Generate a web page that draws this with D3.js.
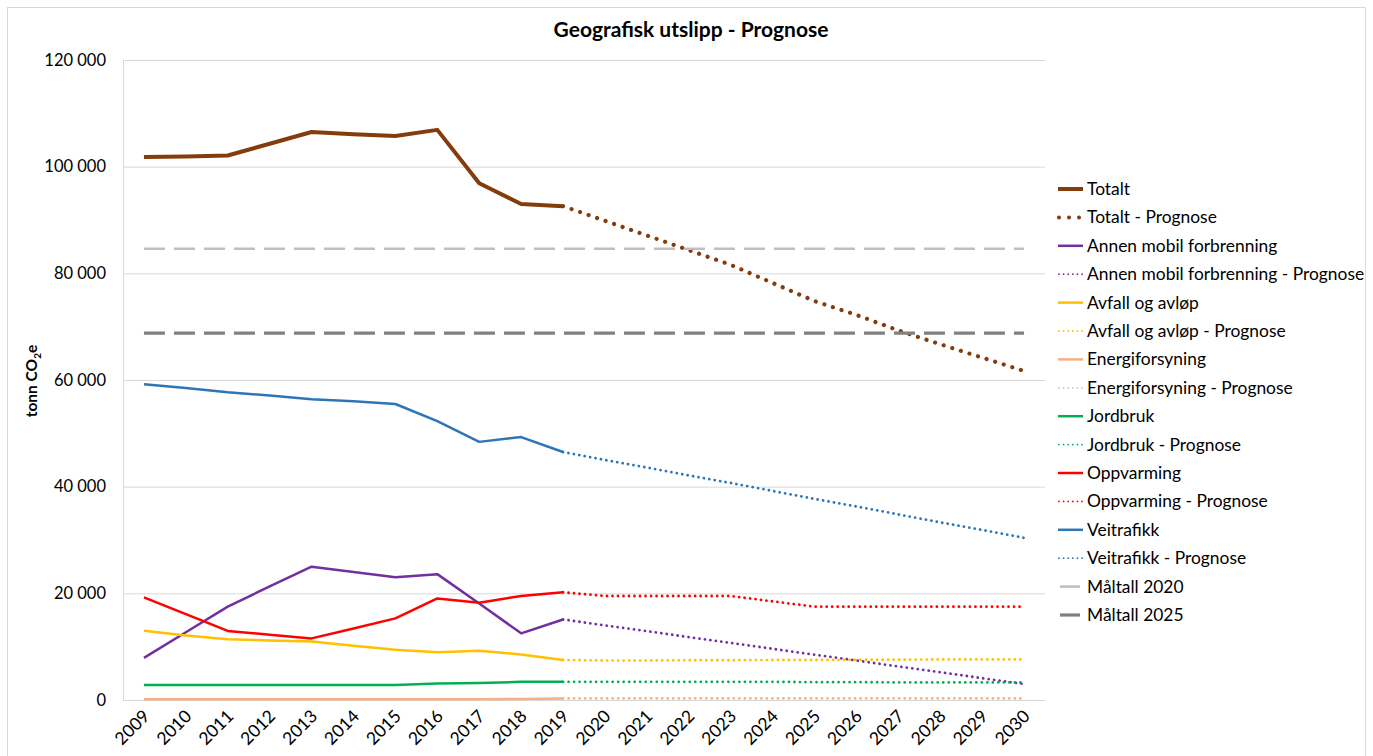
<!DOCTYPE html>
<html>
<head>
<meta charset="utf-8">
<script src="https://d3js.org/d3.v7.min.js"></script>
<style>
body { margin:0; background:#fff; }
svg text { font-family: Lato, "Open Sans", sans-serif; fill:#000; }
</style>
</head>
<body>
<div id="chart"></div>
<script>
// år (kategorier)
var years = ["2009","2010","2011","2012","2013","2014","2015","2016","2017","2018","2019",
             "2020","2021","2022","2023","2024","2025","2026","2027","2028","2029","2030"];
var histYears = years.slice(0, 11);   // 2009-2019
var progYears = years.slice(10);      // 2019-2030 (starter i siste historiske punkt)

// historikk 2009-2019
var totalt      = [101800, 101900, 102100, 104300, 106500, 106100, 105750, 106900, 96900, 93000, 92600];
var annenMobil  = [7900, 12700, 17500, 21300, 25000, 24000, 23000, 23600, 18100, 12500, 15100];
var avfall      = [13000, 12100, 11400, 11150, 10950, 10150, 9400, 8950, 9250, 8550, 7500];
var energi      = [150, 150, 150, 150, 150, 150, 150, 150, 150, 200, 300];
var jordbruk    = [2800, 2800, 2800, 2800, 2800, 2800, 2800, 3100, 3200, 3400, 3400];
var oppvarming  = [19250, 16100, 12950, 12250, 11550, 13400, 15300, 19050, 18250, 19500, 20200];
var veitrafikk  = [59200, 58500, 57700, 57100, 56400, 56000, 55500, 52300, 48400, 49300, 46500];

// prognose 2020-2030
var totaltPrognose     = [89850, 87100, 84350, 81600, 78200, 74800, 72200, 69300, 66700, 64200, 61700];
var annenMobilPrognose = [14000, 12900, 11800, 10700, 9600, 8500, 7400, 6300, 5200, 4100, 3000];
var avfallPrognose     = [7400, 7400, 7450, 7450, 7500, 7500, 7550, 7550, 7600, 7600, 7600];
var energiPrognose     = [300, 300, 300, 300, 300, 300, 300, 300, 300, 300, 300];
var jordbrukPrognose   = [3400, 3400, 3400, 3400, 3400, 3350, 3350, 3300, 3300, 3300, 3300];
var oppvarmingPrognose = [19500, 19500, 19500, 19500, 18500, 17500, 17500, 17500, 17500, 17500, 17500];
var veitrafikkPrognose = [45000, 43600, 42100, 40700, 39200, 37700, 36300, 34800, 33300, 31900, 30400];

// måltall
var maltall2020 = 84600;
var maltall2025 = 68800;

var yTicks = [0, 20000, 40000, 60000, 80000, 100000, 120000];

var series = [
	{name:"Totalt", color:"#843c0c", hist:totalt, prog:totaltPrognose, w:4, dot:9},
	{name:"Annen mobil forbrenning", color:"#7030a0", hist:annenMobil, prog:annenMobilPrognose, w:2.5, dot:5.5},
	{name:"Avfall og avløp", color:"#ffc000", hist:avfall, prog:avfallPrognose, w:2.5, dot:5.5},
	{name:"Energiforsyning", color:"#f4b183", hist:energi, prog:energiPrognose, w:2.5, dot:5.5},
	{name:"Jordbruk", color:"#00b050", hist:jordbruk, prog:jordbrukPrognose, w:2.5, dot:5.5},
	{name:"Oppvarming", color:"#ff0000", hist:oppvarming, prog:oppvarmingPrognose, w:2.5, dot:5.5},
	{name:"Veitrafikk", color:"#2e75b6", hist:veitrafikk, prog:veitrafikkPrognose, w:2.5, dot:5.5}
];
var targets = [
	{name:"Måltall 2020", color:"#bfbfbf", value:maltall2020, w:2.6},
	{name:"Måltall 2025", color:"#808080", value:maltall2025, w:3.2}
];

var W = 1373, H = 756;
var plot = {left:123, right:1045, top:60, bottom:700};

var svg = d3.select("#chart").append("svg")
	.attr("width", W)
	.attr("height", H);

svg.append("rect")
	.attr("x", 7.5).attr("y", 7.5)
	.attr("width", 1358).attr("height", 770)
	.attr("fill", "#fff")
	.attr("stroke", "#d9d9d9");

var x = d3.scalePoint().domain(years).range([plot.left, plot.right]).padding(0.5);
var y = d3.scaleLinear().domain([0, 120000]).range([plot.bottom, plot.top]);

var fmt = d3.formatLocale({decimal:",", thousands:" ", grouping:[3], currency:["",""]}).format(",d");

// gridlinjer
var grid = svg.append("g")
	.attr("transform", "translate(" + plot.left + ",0)")
	.call(d3.axisLeft(y).tickValues(yTicks).tickSize(-(plot.right - plot.left)).tickFormat(""));
grid.select(".domain").attr("stroke", "#d9d9d9");
grid.selectAll(".tick line").attr("stroke", "#d9d9d9");

// y-akse tekst
var yAxis = svg.append("g")
	.attr("transform", "translate(" + plot.left + ",0)")
	.call(d3.axisLeft(y).tickValues(yTicks).tickSize(0).tickPadding(17).tickFormat(fmt));
yAxis.select(".domain").remove();
yAxis.selectAll("text")
	.attr("font-size", "16.5px")
	.style("font-family", "Lato, sans-serif")
	.attr("fill", "#000");

// x-akse
var xAxis = svg.append("g")
	.attr("transform", "translate(0," + plot.bottom + ")")
	.call(d3.axisBottom(x).tickSize(0).tickFormat(function(d){ return d; }));
xAxis.select(".domain").attr("stroke", "#d9d9d9").attr("d", "M" + plot.left + ",0.5H" + plot.right);
xAxis.selectAll("text")
	.attr("y", 0).attr("dy", "0.35em")
	.attr("text-anchor", "end")
	.attr("transform", "translate(2,13) rotate(-45)")
	.attr("font-size", "17.5px")
	.style("font-family", "Lato, sans-serif")
	.attr("fill", "#000");

// tittel
svg.append("text")
	.attr("x", 691).attr("y", 37)
	.attr("text-anchor", "middle")
	.attr("font-size", "21px")
	.attr("font-weight", "bold")
	.text("Geografisk utslipp - Prognose");

// y-akse tittel
var yl = svg.append("text")
	.attr("transform", "translate(37,381) rotate(-90)")
	.attr("text-anchor", "middle")
	.attr("font-size", "15.5px")
	.attr("font-weight", "bold");
yl.append("tspan").text("tonn CO");
yl.append("tspan").attr("font-size", "10px").attr("dy", "4").text("2");
yl.append("tspan").attr("dy", "-4").text("e");

var line = d3.line()
	.x(function(d){ return x(d.year); })
	.y(function(d){ return y(d.value); });

var lines = svg.append("g");
series.forEach(function(s){
	var histData = histYears.map(function(yr, i){ return {year:yr, value:s.hist[i]}; });
	var progVals = [s.hist[s.hist.length - 1]].concat(s.prog);
	var progData = progYears.map(function(yr, i){ return {year:yr, value:progVals[i]}; });

	lines.append("path")
		.datum(histData)
		.attr("fill", "none")
		.attr("stroke", s.color)
		.attr("stroke-width", s.w)
		.attr("stroke-linejoin", "round")
		.attr("d", line);

	lines.append("path")
		.datum(progData)
		.attr("fill", "none")
		.attr("stroke", s.color)
		.attr("stroke-width", s.w == 4 ? 4.2 : 2.8)
		.attr("stroke-linecap", "round")
		.attr("stroke-dasharray", "0.01," + s.dot)
		.attr("d", line);
});

targets.forEach(function(t){
	lines.append("path")
		.datum(years.map(function(yr){ return {year:yr, value:t.value}; }))
		.attr("fill", "none")
		.attr("stroke", t.color)
		.attr("stroke-width", t.w)
		.attr("stroke-dasharray", "21,9")
		.attr("d", line);
});

// legende
var legendItems = [];
series.forEach(function(s){
	legendItems.push({label:s.name, color:s.color, w:s.w, type:"solid"});
	legendItems.push({label:s.name + " - Prognose", color:s.color, w:s.w, type:"dot", dot:s.dot});
});
targets.forEach(function(t){
	legendItems.push({label:t.name, color:t.color, w:t.w, type:"target"});
});

var legend = svg.append("g").attr("class", "legend");
var item = legend.selectAll(".item")
	.data(legendItems)
	.enter().append("g")
	.attr("class", "item")
	.attr("transform", function(d, i){ return "translate(1058," + (189 + i * 28.4) + ")"; });

item.append("path")
	.attr("d", function(d){ return d.type == "target" ? "M2,0H22" : (d.type == "dot" ? "M1,0H25" : "M0,0H25"); })
	.attr("stroke", function(d){ return d.color; })
	.attr("stroke-width", function(d){ return d.type == "dot" && d.w < 3 ? 1.8 : d.w; })
	.attr("stroke-linecap", function(d){ return d.type == "dot" ? "round" : "butt"; })
	.attr("stroke-dasharray", function(d){
		if(d.type != "dot") return null;
		return d.w > 3 ? "0.01,10" : "0.01,4.6";
	});

item.append("text")
	.attr("x", 29)
	.attr("dy", "0.35em")
	.attr("font-size", "17.4px")
	.text(function(d){ return d.label; });
</script>
</body>
</html>
